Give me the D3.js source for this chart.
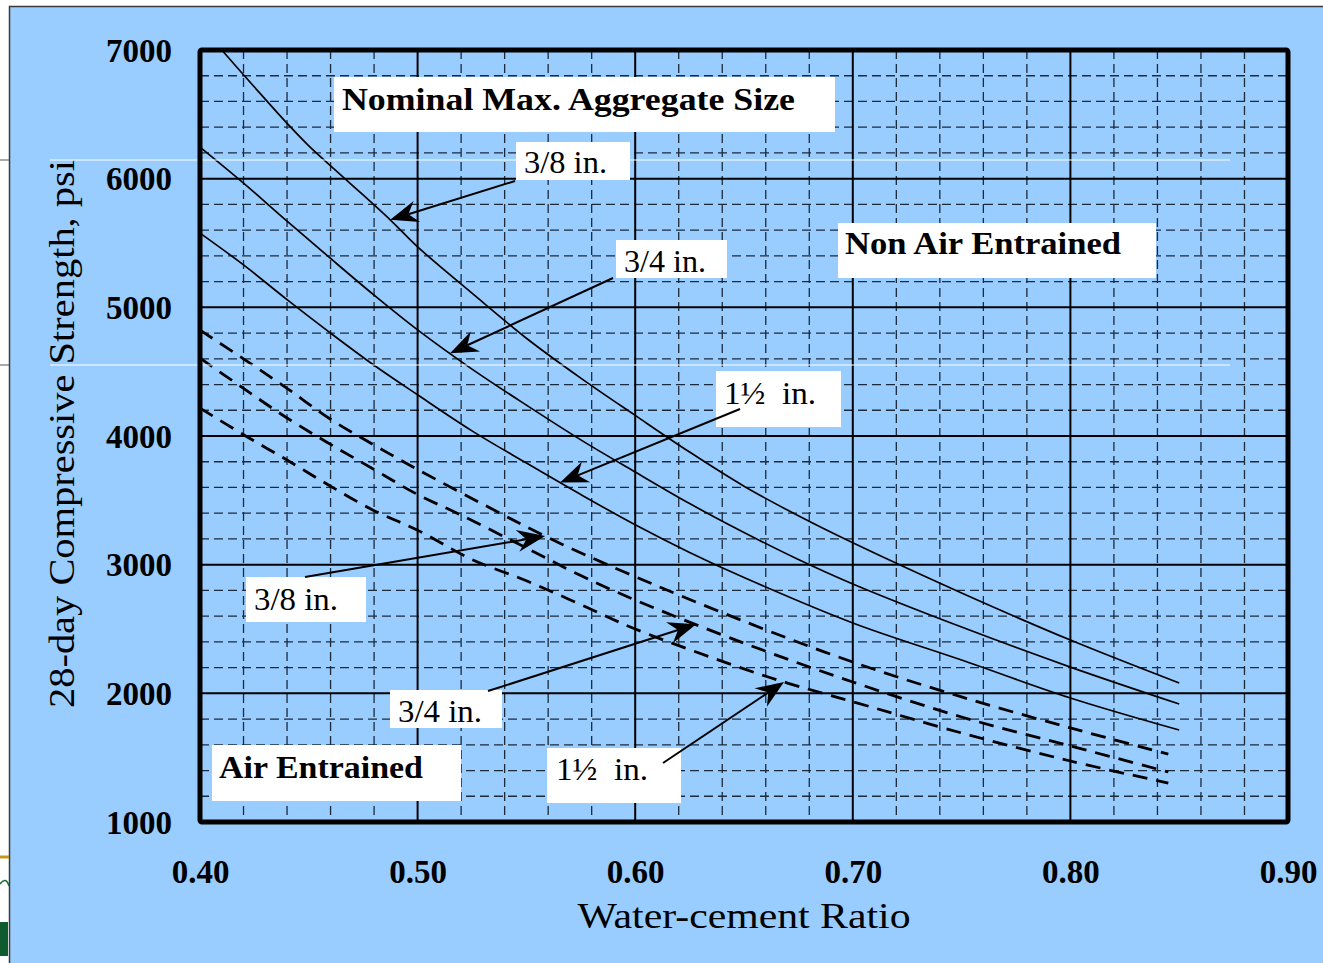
<!DOCTYPE html>
<html>
<head>
<meta charset="utf-8">
<script src="https://cdn.jsdelivr.net/npm/d3@7"></script>
<style>
  body { margin: 0; background: #fff; }
  svg { display: block; }
  text { font-family: "Liberation Serif", "Times New Roman", serif; fill: #000; white-space: pre; }
</style>
</head>
<body>
<div id="chart"></div>
<script>
// tick values
var xTicks = [0.40, 0.50, 0.60, 0.70, 0.80, 0.90];
var yTicks = [1000, 2000, 3000, 4000, 5000, 6000, 7000];

// non air entrained, [w/c, psi]
var nonAir38 = [[0.41,7000],[0.425,6712],[0.44,6430],[0.45,6255],[0.4676,5985],[0.4874,5680],[0.50,5470],[0.525,5110],[0.55,4760],[0.575,4450],[0.60,4160],[0.625,3875],[0.65,3610],[0.675,3380],[0.70,3170],[0.75,2780],[0.80,2414],[0.85,2080]];
var nonAir34 = [[0.40,6245],[0.42,5965],[0.44,5670],[0.46,5380],[0.48,5095],[0.50,4825],[0.525,4520],[0.55,4240],[0.575,3970],[0.60,3720],[0.625,3475],[0.65,3250],[0.675,3040],[0.70,2850],[0.75,2515],[0.80,2204],[0.85,1917]];
var nonAir112 = [[0.40,5577],[0.42,5330],[0.44,5060],[0.46,4800],[0.48,4550],[0.50,4320],[0.525,4040],[0.55,3790],[0.575,3545],[0.60,3310],[0.625,3095],[0.65,2900],[0.70,2547],[0.75,2259],[0.80,1964],[0.85,1715]];

// air entrained
var air38 = [[0.40,4823],[0.42,4600],[0.44,4370],[0.46,4130],[0.48,3930],[0.50,3740],[0.53,3470],[0.56,3210],[0.595,2943],[0.65,2560],[0.70,2243],[0.75,1972],[0.80,1731],[0.845,1528]];
var air34 = [[0.40,4605],[0.42,4370],[0.44,4140],[0.46,3935],[0.48,3740],[0.50,3545],[0.52,3385],[0.55,3130],[0.575,2915],[0.60,2725],[0.65,2390],[0.70,2088],[0.75,1816],[0.80,1591],[0.845,1389]];
var air112 = [[0.40,4217],[0.42,4010],[0.44,3813],[0.46,3610],[0.48,3420],[0.50,3268],[0.525,3040],[0.55,2875],[0.575,2690],[0.60,2500],[0.65,2190],[0.67,2080],[0.70,1935],[0.75,1692],[0.80,1474],[0.845,1303]];

var W = 1323, H = 963;
var plot = { left: 200, right: 1288, top: 50, bottom: 822 };

var svg = d3.select("#chart")
  .append("svg")
    .attr("width", W)
    .attr("height", H);

// slide panel
svg.append("rect")
    .attr("x", 9.5).attr("y", 6.5)
    .attr("width", W).attr("height", H)
    .attr("fill", "#99ccff")
    .attr("stroke", "#3a3a3a")
    .attr("stroke-width", 1.5);

// bits of the slide behind, at the left edge
svg.append("line").attr("x1", 0).attr("x2", 9).attr("y1", 857).attr("y2", 857)
    .attr("stroke", "#c8961e").attr("stroke-width", 3);
svg.append("path").attr("d", "M0,884 Q6,876 9,886")
    .attr("fill", "none").attr("stroke", "#1d6b3a").attr("stroke-width", 1.5);
svg.append("rect").attr("x", 0).attr("y", 922).attr("width", 8).attr("height", 34)
    .attr("fill", "#0f5a2e");
[160, 365].forEach(function(yy) {
  svg.append("line").attr("x1", 0).attr("x2", 9).attr("y1", yy).attr("y2", yy)
      .attr("stroke", "#555").attr("stroke-width", 1);
});

var x = d3.scaleLinear()
    .domain([0.4, 0.9])
    .range([plot.left, plot.right]);

var y = d3.scaleLinear()
    .domain([1000, 7000])
    .range([plot.bottom, plot.top]);

var g = svg.append("g");

// minor grid
var minorX = d3.range(0.42, 0.9, 0.02).filter(function(v) { return Math.abs(v * 10 - Math.round(v * 10)) > 0.01; });
var minorY = d3.range(1200, 7000, 200).filter(function(v) { return v % 1000 != 0; });

g.selectAll(".minor-x")
  .data(minorX)
  .enter()
    .append("line")
    .attr("x1", function(d) { return x(d); })
    .attr("x2", function(d) { return x(d); })
    .attr("y1", plot.top)
    .attr("y2", plot.bottom)
    .attr("stroke", "#1c2a3a")
    .attr("stroke-width", 1.3)
    .attr("stroke-dasharray", "9,5");

g.selectAll(".minor-y")
  .data(minorY)
  .enter()
    .append("line")
    .attr("x1", plot.left)
    .attr("x2", plot.right)
    .attr("y1", function(d) { return y(d); })
    .attr("y2", function(d) { return y(d); })
    .attr("stroke", "#1c2a3a")
    .attr("stroke-width", 1.3)
    .attr("stroke-dasharray", "9,5");

// major grid
g.selectAll(".major-x")
  .data(xTicks.slice(1, -1))
  .enter()
    .append("line")
    .attr("x1", function(d) { return x(d); })
    .attr("x2", function(d) { return x(d); })
    .attr("y1", plot.top)
    .attr("y2", plot.bottom)
    .attr("stroke", "#000")
    .attr("stroke-width", 2);

g.selectAll(".major-y")
  .data(yTicks.slice(1, -1))
  .enter()
    .append("line")
    .attr("x1", plot.left)
    .attr("x2", plot.right)
    .attr("y1", function(d) { return y(d); })
    .attr("y2", function(d) { return y(d); })
    .attr("stroke", "#000")
    .attr("stroke-width", 2);

// stray white lines from the slide
[160, 365].forEach(function(yy) {
  svg.append("line").attr("x1", 50).attr("x2", 1230).attr("y1", yy).attr("y2", yy)
      .attr("stroke", "#fff").attr("stroke-width", 1);
});

// curves
var line = d3.line()
    .x(function(d) { return x(d[0]); })
    .y(function(d) { return y(d[1]); })
    .curve(d3.curveCatmullRom.alpha(0.5));

[nonAir38, nonAir34, nonAir112].forEach(function(s) {
  g.append("path")
      .datum(s)
      .attr("d", line)
      .attr("fill", "none")
      .attr("stroke", "#000")
      .attr("stroke-width", 1.7);
});

[air38, air34, air112].forEach(function(s) {
  g.append("path")
      .datum(s)
      .attr("d", line)
      .attr("fill", "none")
      .attr("stroke", "#000")
      .attr("stroke-width", 2.8)
      .attr("stroke-dasharray", "15,9");
});

// plot frame
svg.append("rect")
    .attr("x", plot.left).attr("y", plot.top)
    .attr("width", plot.right - plot.left)
    .attr("height", plot.bottom - plot.top)
    .attr("rx", 2)
    .attr("fill", "none")
    .attr("stroke", "#000")
    .attr("stroke-width", 5);

// axes (labels only)
var yAxis = svg.append("g")
    .attr("transform", "translate(" + plot.left + ",0)")
    .call(d3.axisLeft(y).tickValues(yTicks).tickFormat(d3.format("d")).tickSize(0).tickPadding(28));
var xAxis = svg.append("g")
    .attr("transform", "translate(0," + plot.bottom + ")")
    .call(d3.axisBottom(x).tickValues(xTicks).tickFormat(d3.format(".2f")).tickSize(0).tickPadding(38));
[yAxis, xAxis].forEach(function(a) {
  a.select(".domain").remove();
  a.selectAll("text")
      .attr("fill", "#000")
      .style("font-family", "'Liberation Serif', serif")
      .style("font-weight", "bold")
      .style("font-size", "33px");
});
yAxis.selectAll("text").attr("dy", "0.34em");

svg.append("text")
    .attr("transform", "translate(74,434) rotate(-90)")
    .attr("text-anchor", "middle")
    .attr("textLength", 548)
    .attr("lengthAdjust", "spacingAndGlyphs")
    .style("font-size", "36px")
    .text("28-day Compressive Strength, psi");

svg.append("text")
    .attr("x", 744).attr("y", 928)
    .attr("text-anchor", "middle")
    .attr("textLength", 333)
    .attr("lengthAdjust", "spacingAndGlyphs")
    .style("font-size", "35px")
    .text("Water-cement Ratio");

// label boxes
function box(x0, y0, w, h, tx, ty, tl, label, bold) {
  svg.append("rect")
      .attr("x", x0).attr("y", y0).attr("width", w).attr("height", h)
      .attr("fill", "#fff");
  svg.append("text")
      .attr("x", tx).attr("y", ty)
      .attr("textLength", tl)
      .attr("lengthAdjust", "spacingAndGlyphs")
      .style("font-size", "32px")
      .style("font-weight", bold ? "bold" : "normal")
      .text(label);
}

box(334, 77, 501, 55, 342, 110, 453, "Nominal Max. Aggregate Size", true);
box(838, 223, 318, 55, 845, 254, 276, "Non Air Entrained", true);
box(212, 745, 249, 56, 219, 778, 204, "Air Entrained", true);

box(516, 142, 114, 38, 524, 173, 83, "3/8 in.", false);
box(616, 240, 111, 38, 624, 272, 82, "3/4 in.", false);
box(716, 371, 125, 56, 724, 404, 92, "1\u00bd  in.", false);
box(246, 577, 120, 45, 254, 610, 84, "3/8 in.", false);
box(390, 690, 112, 38, 398, 722, 84, "3/4 in.", false);
box(547, 748, 134, 55, 556, 780, 92, "1\u00bd  in.", false);

// arrows: tail in pixels, tip on a curve at a given w/c
function valueAt(series, w) {
  for (var i = 1; i < series.length; i++) {
    if (w <= series[i][0]) {
      var a = series[i - 1], b = series[i];
      return a[1] + (b[1] - a[1]) * (w - a[0]) / (b[0] - a[0]);
    }
  }
  return series[series.length - 1][1];
}

function arrow(tx, ty, series, w) {
  var hx = x(w), hy = y(valueAt(series, w));
  var ang = Math.atan2(hy - ty, hx - tx);
  var L = 28, B = 11, N = 19;
  svg.append("line")
      .attr("x1", tx).attr("y1", ty)
      .attr("x2", hx - Math.cos(ang) * N).attr("y2", hy - Math.sin(ang) * N)
      .attr("stroke", "#000").attr("stroke-width", 2);
  var pts = [[0, 0], [-L, -B], [-N, 0], [-L, B]].map(function(p) {
    return [hx + p[0] * Math.cos(ang) - p[1] * Math.sin(ang),
            hy + p[0] * Math.sin(ang) + p[1] * Math.cos(ang)];
  });
  svg.append("path")
      .attr("d", "M" + pts.join("L") + "Z")
      .attr("fill", "#000");
}

arrow(515, 181, nonAir38, 0.4874);
arrow(613, 278, nonAir34, 0.5149);
arrow(740, 409, nonAir112, 0.5655);
arrow(305, 577, air38, 0.5586);
arrow(488, 691, air34, 0.628);
arrow(663, 763, air112, 0.6684);
</script>
</body>
</html>
